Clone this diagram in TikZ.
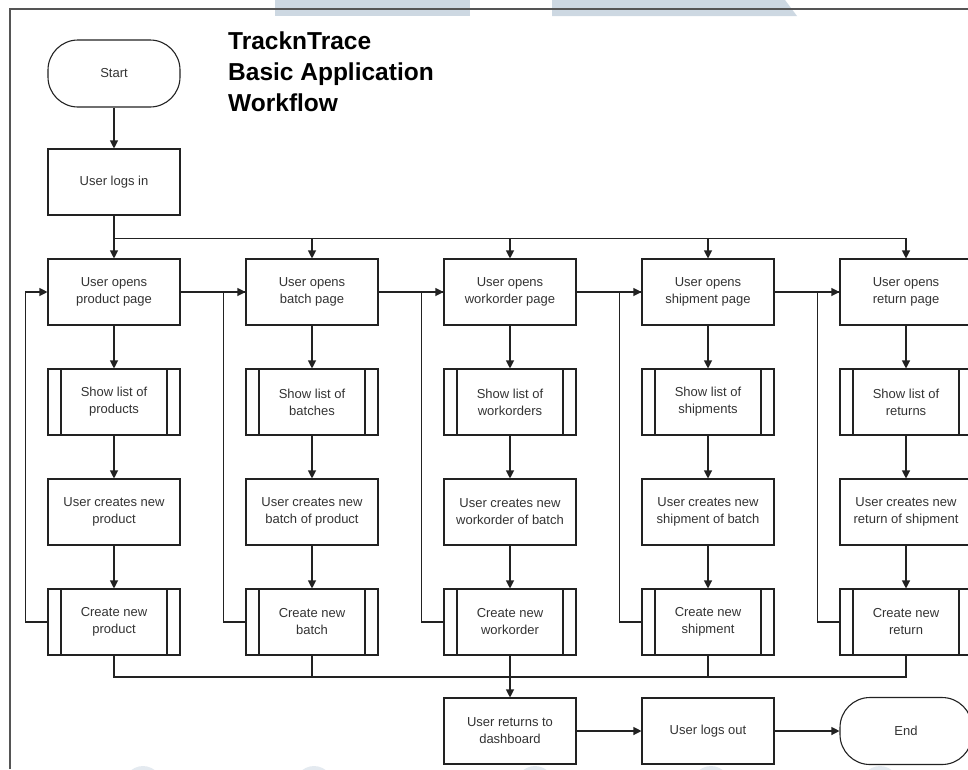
\documentclass[tikz,border=0pt]{standalone}
\usepackage{fontspec}
\setmainfont{Liberation Sans}
\usetikzlibrary{arrows.meta}
\definecolor{edgec}{HTML}{222222}
\definecolor{txt}{HTML}{333333}
\definecolor{framec}{HTML}{555555}
\definecolor{wmark}{HTML}{CDD8E2}
\definecolor{wmarkfaint}{HTML}{E4EAF0}
\begin{document}
\begin{tikzpicture}[x=1pt,y=-1pt,
  every node/.style={font=\fontsize{13}{17}\selectfont, text=txt},
  box/.style={draw=edgec, line width=1.1pt, minimum width=132pt, minimum height=66pt,
    inner sep=0pt, align=center},
  subproc/.style={box, path picture={
    \draw[line width=1.1pt, draw=edgec]
      ([xshift=13pt]path picture bounding box.north west) -- ([xshift=13pt]path picture bounding box.south west)
      ([xshift=-13pt]path picture bounding box.north east) -- ([xshift=-13pt]path picture bounding box.south east);}},
  term/.style={box, minimum height=67pt, rounded corners=30pt},
  flow/.style={draw=edgec, line width=1.1pt, -{Triangle[length=8pt,width=8pt]}},
  link/.style={draw=edgec, line width=1.1pt},
  pageborder/.style={draw=framec, line width=1.2pt}]

\useasboundingbox (0,0) rectangle (968,769);
\clip (0,0) rectangle (968,769);

% light background marks along the top and bottom edges
\fill[wmark] (275,0) rectangle (470,16);
\fill[wmark] (552,0) -- (785,0) -- (797,16) -- (552,16) -- cycle;
\foreach \cx in {143,314,535,711,880}
  \fill[wmarkfaint] (\cx,792) ellipse (22 and 26);

% page frame
\draw[pageborder] (10,769) -- (10,9) -- (968,9);

% title (anchored on the baseline of its last line)
\node[anchor=base west, align=left, inner sep=0pt, text=black,
  font=\bfseries\fontsize{24.5}{31}\selectfont] (title) at (228,111)
  {TracknTrace\\Basic Application\\Workflow};

% entry
\node[term] (start) at (114,73.5) {Start};
\node[box] (login) at (114,182) {User logs in};

% page openers
\node[box] (open1) at (114,292) {User opens\\product page};
\node[box] (open2) at (312,292) {User opens\\batch page};
\node[box] (open3) at (510,292) {User opens\\workorder page};
\node[box] (open4) at (708,292) {User opens\\shipment page};
\node[box] (open5) at (906,292) {User opens\\return page};

% list views
\node[subproc] (list1) at (114,402) {Show list of\\products};
\node[subproc] (list2) at (312,402) {Show list of\\batches};
\node[subproc] (list3) at (510,402) {Show list of\\workorders};
\node[subproc] (list4) at (708,402) {Show list of\\shipments};
\node[subproc] (list5) at (906,402) {Show list of\\returns};

% user input
\node[box] (make1) at (114,512) {User creates new\\product};
\node[box] (make2) at (312,512) {User creates new\\batch of product};
\node[box] (make3) at (510,512) {User creates new\\workorder of batch};
\node[box] (make4) at (708,512) {User creates new\\shipment of batch};
\node[box] (make5) at (906,512) {User creates new\\return of shipment};

% record creation
\node[subproc] (new1) at (114,622) {Create new\\product};
\node[subproc] (new2) at (312,622) {Create new\\batch};
\node[subproc] (new3) at (510,622) {Create new\\workorder};
\node[subproc] (new4) at (708,622) {Create new\\shipment};
\node[subproc] (new5) at (906,622) {Create new\\return};

% exit
\node[box] (dash) at (510,731) {User returns to\\dashboard};
\node[box] (logout) at (708,731) {User logs out};
\node[term] (end) at (906,731) {End};

% start and login
\draw[flow] (start) -- (login);
\draw[flow] (login) -- (open1);
\foreach \k in {2,...,5}
  \draw[flow] (login.south) ++(0,23) -| (open\k);

% columns
\foreach \k in {1,...,5} {
  \draw[flow] (open\k) -- (list\k);
  \draw[flow] (list\k) -- (make\k);
  \draw[flow] (make\k) -- (new\k);
}

% loops back to the page openers
\draw[flow] (new1.west) -- ++(-22,0) |- (open1.west);
\foreach \k in {2,...,5}
  \draw[link] (new\k.west) -- ++(-22,0) |- (open\k.west);

% page to page
\draw[flow] (open1) -- (open2);
\draw[flow] (open2) -- (open3);
\draw[flow] (open3) -- (open4);
\draw[flow] (open4) -- (open5);

% merge to dashboard
\coordinate (merge) at (510,677);
\draw[link] (new1.south) |- (merge) -| (new5.south);
\draw[link] (new2.south) -- (new2.south |- merge);
\draw[link] (new4.south) -- (new4.south |- merge);
\draw[flow] (new3) -- (dash);
\draw[flow] (dash) -- (logout);
\draw[flow] (logout) -- (end);
\end{tikzpicture}
\end{document}
